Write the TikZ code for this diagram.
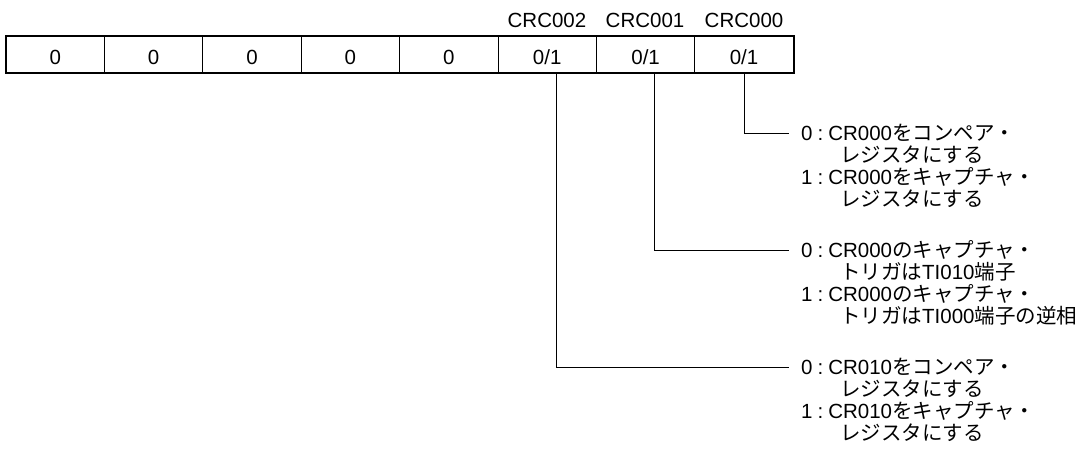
\documentclass[tikz,border=0pt]{standalone}
\usepackage{fontspec}
\setmainfont{Liberation Sans}
\newfontfamily\jp{Noto Sans CJK JP}
\newcommand{\sep}{\hspace{5pt}:\hspace{5pt}}
\begin{document}
\begin{tikzpicture}[x=1pt,y=-1pt,
  font=\fontsize{20.5}{24}\selectfont,
  cell/.style={draw,line width=0.9pt,minimum width=98.4pt,minimum height=37pt,inner sep=0pt,anchor=center,text height=19pt,text depth=0pt},
  lab/.style={inner sep=0pt,anchor=base},
  opt/.style={inner sep=0pt,anchor=west},
  conn/.style={line width=0.9pt}]
\useasboundingbox (0,0) rectangle (1089,450);
\foreach \i/\t in {0/0,1/0,2/0,3/0,4/0,5/{0/1},6/{0/1},7/{0/1}}
  \node[cell] (c\i) at ({6+98.4*\i+49.2},54.5) {\t};
\draw[line width=2pt] (c0.north west) rectangle (c7.south east);
\node[lab] (l2) at (547,27) {CRC002};
\node[lab] (l1) at (645,27) {CRC001};
\node[lab] (l0) at (744,27) {CRC000};
% group 1
\node[opt] (a1) at (801,133) {0\sep CR000{\jp をコンペア・}};
\node[opt] (a2) at (840,155) {\jp レジスタにする};
\node[opt] (a3) at (801,177) {1\sep CR000{\jp をキャプチャ・}};
\node[opt] (a4) at (840,199) {\jp レジスタにする};
% group 2
\node[opt] (b1) at (801,250) {0\sep CR000{\jp のキャプチャ・}};
\node[opt] (b2) at (840,272) {{\jp トリガは}TI010{\jp 端子}};
\node[opt] (b3) at (801,294) {1\sep CR000{\jp のキャプチャ・}};
\node[opt] (b4) at (840,316) {{\jp トリガは}TI000{\jp 端子の逆相}};
% group 3
\node[opt] (d1) at (801,367) {0\sep CR010{\jp をコンペア・}};
\node[opt] (d2) at (840,389) {\jp レジスタにする};
\node[opt] (d3) at (801,411) {1\sep CR010{\jp をキャプチャ・}};
\node[opt] (d4) at (840,433) {\jp レジスタにする};
% connectors
\draw[conn] (c7.south) |- ([xshift=-12pt]a1.west);
\draw[conn] ([xshift=9pt]c6.south) |- ([xshift=-12pt]b1.west);
\draw[conn] ([xshift=9pt]c5.south) |- ([xshift=-12pt]d1.west);
\end{tikzpicture}
\end{document}
